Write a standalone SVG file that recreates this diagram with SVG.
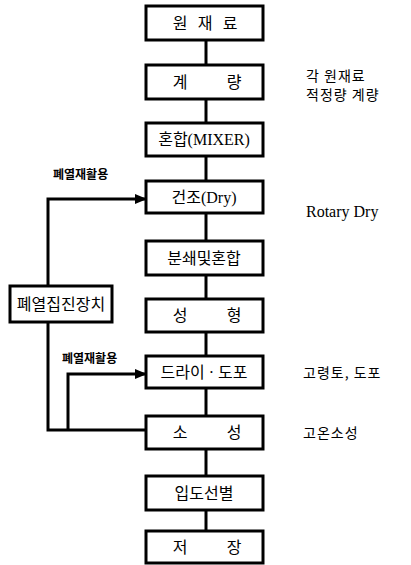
<svg xmlns="http://www.w3.org/2000/svg" width="411" height="565" viewBox="0 0 411 565">
<defs>
<marker id="arr" markerWidth="12" markerHeight="10" refX="11" refY="5" orient="auto" markerUnits="userSpaceOnUse">
<path d="M0,0 L12,5 L0,10 Z" fill="#000"/>
</marker>
<style>
.box{fill:#fff;stroke:#000;stroke-width:3}
.ln{fill:none;stroke:#000;stroke-width:3}
.t{font-family:"Liberation Serif","Noto Sans CJK KR",serif;font-size:16px;fill:#000;text-anchor:middle;dominant-baseline:central}
.n{font-family:"Liberation Serif","Noto Sans CJK KR",serif;font-size:16px;fill:#000;dominant-baseline:central}
.k{font-family:"Noto Sans CJK KR",sans-serif;font-size:14px;letter-spacing:1px;fill:#000;dominant-baseline:central}
.s{font-family:"Noto Sans CJK KR",sans-serif;font-size:12px;font-weight:bold;fill:#000;dominant-baseline:central}
</style>
</defs>
<rect width="411" height="565" fill="#fff"/>
<g id="connectors">
<line class="ln" x1="206" y1="40" x2="206" y2="65"/>
<line class="ln" x1="206" y1="99" x2="206" y2="123"/>
<line class="ln" x1="206" y1="156" x2="206" y2="181"/>
<line class="ln" x1="206" y1="213" x2="206" y2="241"/>
<line class="ln" x1="206" y1="275" x2="206" y2="299"/>
<line class="ln" x1="206" y1="332" x2="206" y2="356"/>
<line class="ln" x1="206" y1="388" x2="206" y2="416"/>
<line class="ln" x1="206" y1="449" x2="206" y2="476"/>
<line class="ln" x1="206" y1="510" x2="206" y2="531"/>
<polyline class="ln" points="48,286 48,199 146,199" marker-end="url(#arr)"/>
<polyline class="ln" points="48,322 48,430 146,430"/>
<polyline class="ln" points="68,430 68,374 146,374" marker-end="url(#arr)"/>
<text class="s" x="53" y="173">폐열재활용</text>
<text class="s" x="62" y="357">폐열재활용</text>
</g>
<g id="n1"><rect class="box" x="146" y="6" width="117" height="34"/><text class="t" x="180" y="23">원</text><text class="t" x="205" y="23">재</text><text class="t" x="230" y="23">료</text></g>
<g id="n2"><rect class="box" x="146" y="65" width="117" height="34"/><text class="t" x="180" y="82">계</text><text class="t" x="234" y="82">량</text></g>
<g id="n3"><rect class="box" x="146" y="123" width="117" height="33"/><text class="t" x="204" y="139">혼합(MIXER)</text></g>
<g id="n4"><rect class="box" x="146" y="181" width="117" height="32"/><text class="t" x="204" y="197">건조(Dry)</text></g>
<g id="n5"><rect class="box" x="146" y="241" width="117" height="34"/><text class="t" x="204" y="258">분쇄및혼합</text></g>
<g id="n6"><rect class="box" x="146" y="299" width="117" height="33"/><text class="t" x="180" y="315">성</text><text class="t" x="234" y="315">형</text></g>
<g id="n7"><rect class="box" x="146" y="356" width="117" height="32"/><text class="t" x="204" y="372">드라이 · 도포</text></g>
<g id="n8"><rect class="box" x="146" y="416" width="117" height="33"/><text class="t" x="180" y="432">소</text><text class="t" x="234" y="432">성</text></g>
<g id="n9"><rect class="box" x="146" y="476" width="117" height="34"/><text class="t" x="204" y="493">입도선별</text></g>
<g id="n10"><rect class="box" x="146" y="531" width="117" height="32"/><text class="t" x="180" y="547">저</text><text class="t" x="234" y="547">장</text></g>
<g id="n11"><rect class="box" x="10" y="286" width="102" height="36"/><text class="t" x="61" y="304">폐열집진장치</text></g>
<g id="notes">
<text class="k" x="306" y="75">각 원재료</text>
<text class="k" x="306" y="94">적정량 계량</text>
<text class="n" x="306" y="211">Rotary Dry</text>
<text class="k" x="303" y="372">고령토, 도포</text>
<text class="k" x="303" y="432">고온소성</text>
</g>
</svg>
